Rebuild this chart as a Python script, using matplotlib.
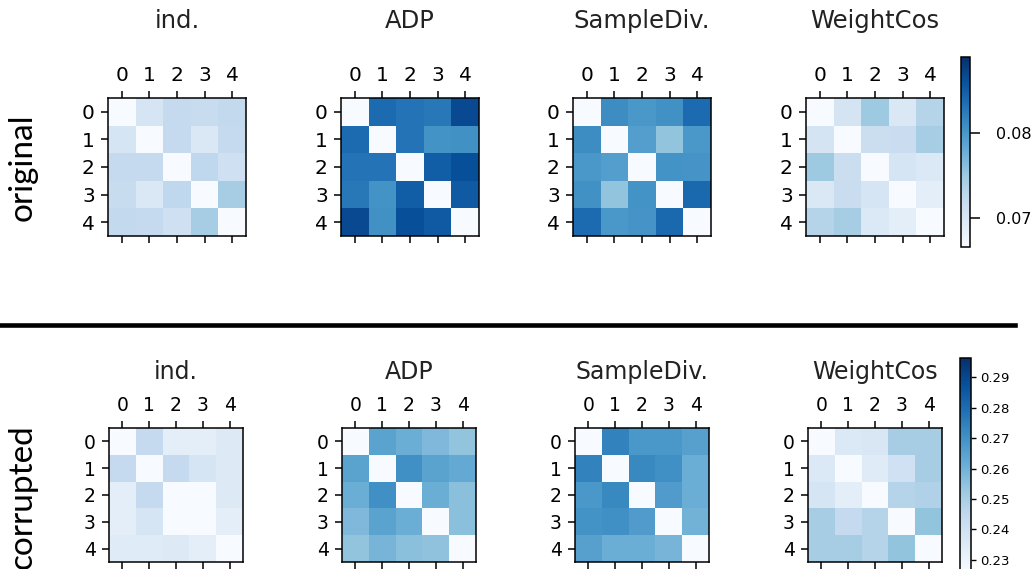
import numpy as np
import matplotlib
matplotlib.use("Agg")
import matplotlib.pyplot as plt
from matplotlib.lines import Line2D

methods = ["ind.", "ADP", "SampleDiv.", "WeightCos"]
ticks = [0, 1, 2, 3, 4]

# similarity matrices, clean data
orig_ind = [[0.0666, 0.0704, 0.0722, 0.0720, 0.0724],
            [0.0704, 0.0666, 0.0722, 0.0699, 0.0722],
            [0.0722, 0.0722, 0.0666, 0.0726, 0.0713],
            [0.0720, 0.0699, 0.0726, 0.0666, 0.0744],
            [0.0724, 0.0722, 0.0713, 0.0744, 0.0666]]
orig_adp = [[0.0666, 0.0838, 0.0831, 0.0827, 0.0867],
            [0.0838, 0.0666, 0.0831, 0.0804, 0.0806],
            [0.0831, 0.0831, 0.0666, 0.0849, 0.0862],
            [0.0827, 0.0804, 0.0849, 0.0666, 0.0853],
            [0.0867, 0.0806, 0.0862, 0.0853, 0.0666]]
orig_sdiv = [[0.0666, 0.0809, 0.0800, 0.0806, 0.0838],
             [0.0809, 0.0666, 0.0793, 0.0755, 0.0800],
             [0.0800, 0.0793, 0.0666, 0.0804, 0.0802],
             [0.0806, 0.0755, 0.0804, 0.0666, 0.0840],
             [0.0838, 0.0800, 0.0802, 0.0840, 0.0666]]
orig_wcos = [[0.0666, 0.0706, 0.0749, 0.0699, 0.0733],
             [0.0706, 0.0666, 0.0715, 0.0717, 0.0744],
             [0.0749, 0.0715, 0.0666, 0.0704, 0.0697],
             [0.0699, 0.0717, 0.0704, 0.0666, 0.0688],
             [0.0733, 0.0744, 0.0697, 0.0688, 0.0666]]

# corrupted data
corr_ind = [[0.2260, 0.2436, 0.2330, 0.2330, 0.2351],
            [0.2436, 0.2260, 0.2436, 0.2380, 0.2351],
            [0.2330, 0.2436, 0.2260, 0.2262, 0.2351],
            [0.2330, 0.2380, 0.2262, 0.2260, 0.2330],
            [0.2344, 0.2344, 0.2351, 0.2330, 0.2260]]
corr_adp = [[0.2260, 0.2647, 0.2612, 0.2576, 0.2541],
            [0.2647, 0.2260, 0.2703, 0.2647, 0.2626],
            [0.2612, 0.2703, 0.2260, 0.2612, 0.2555],
            [0.2576, 0.2647, 0.2612, 0.2260, 0.2555],
            [0.2541, 0.2590, 0.2555, 0.2548, 0.2260]]
corr_sdiv = [[0.2260, 0.2738, 0.2682, 0.2682, 0.2654],
             [0.2738, 0.2260, 0.2724, 0.2703, 0.2612],
             [0.2682, 0.2724, 0.2260, 0.2668, 0.2612],
             [0.2696, 0.2703, 0.2668, 0.2260, 0.2597],
             [0.2654, 0.2612, 0.2612, 0.2590, 0.2260]]
corr_wcos = [[0.2260, 0.2358, 0.2365, 0.2506, 0.2506],
             [0.2358, 0.2260, 0.2344, 0.2401, 0.2506],
             [0.2380, 0.2330, 0.2260, 0.2471, 0.2485],
             [0.2506, 0.2436, 0.2471, 0.2260, 0.2541],
             [0.2506, 0.2506, 0.2471, 0.2541, 0.2260]]

orig_range = (0.0666, 0.0889)
corr_range = (0.2260, 0.2963)
orig_cticks = [0.07, 0.08]
corr_cticks = [0.23, 0.24, 0.25, 0.26, 0.27, 0.28, 0.29]

W, H = 1032, 569
fig = plt.figure(figsize=(W / 100, H / 100), dpi=100)


def box(x0, y0, w, h):
    # pixel box (top-left origin) -> figure fraction
    return [x0 / W, 1 - (y0 + h) / H, w / W, h / H]


def draw_row(mats, rng, lefts, top, size, fs, tfs, title_y):
    im = None
    for m, name, x0 in zip(mats, methods, lefts):
        ax = fig.add_axes(box(x0, top, size, size))
        im = ax.matshow(np.array(m), cmap="Blues", vmin=rng[0], vmax=rng[1])
        ax.set_xticks(ticks)
        ax.set_yticks(ticks)
        ax.tick_params(labelsize=fs, length=5, width=1.1, pad=4.5)
        for s in ax.spines.values():
            s.set_linewidth(1.1)
        fig.text((x0 + size / 2) / W, 1 - title_y / H, name, fontsize=tfs,
                 ha="center", va="center", color="#222222")
    return im


im1 = draw_row([orig_ind, orig_adp, orig_sdiv, orig_wcos], orig_range,
               [108, 341, 573, 806], 98, 138, 14.5, 17.5, 21)
cax1 = fig.add_axes(box(961, 57, 9, 190))
cb1 = fig.colorbar(im1, cax=cax1, ticks=orig_cticks)
cb1.ax.tick_params(labelsize=11.5, length=7, width=1.1, pad=12)
cb1.outline.set_linewidth(1.1)

im2 = draw_row([corr_ind, corr_adp, corr_sdiv, corr_wcos], corr_range,
               [109, 342, 575, 808], 428, 134, 13.5, 17, 372)
cax2 = fig.add_axes(box(960, 358, 11, 214))
cb2 = fig.colorbar(im2, cax=cax2, ticks=corr_cticks)
cb2.ax.tick_params(labelsize=9.5, length=3.5, width=1, pad=3)
cb2.outline.set_linewidth(1.1)

# separator and row labels
fig.add_artist(Line2D([0, 1015 / W], [1 - 325 / H, 1 - 325 / H],
                      transform=fig.transFigure, color="black", lw=3.3))
fig.text(23 / W, 1 - 167 / H, "original", rotation=90, fontsize=24,
         family="Lato", ha="center", va="center")
fig.text(23 / W, 1 - 497 / H, "corrupted", rotation=90, fontsize=24,
         family="Lato", ha="center", va="center")

fig.savefig("out.png", dpi=100)
